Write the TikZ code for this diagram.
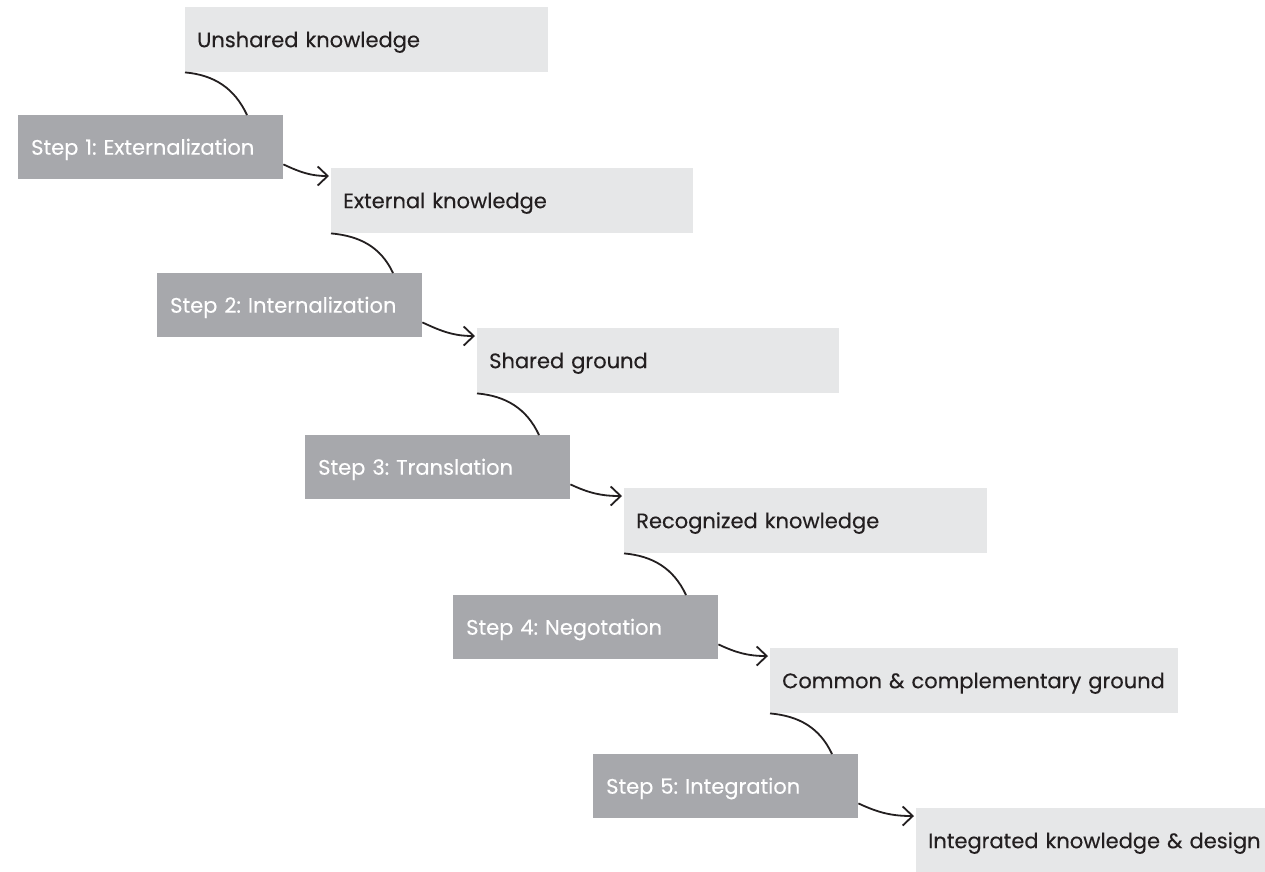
\documentclass[tikz,border=0pt]{standalone}
\usepackage{fontspec}
\setmainfont{Poppins}[FakeBold=0.3]
\usetikzlibrary{arrows.meta,positioning}
\definecolor{knowgray}{RGB}{230,231,232}
\definecolor{stepgray}{RGB}{167,168,172}
\definecolor{inkdark}{RGB}{35,31,32}
\frenchspacing

\begin{document}
\begin{tikzpicture}[x=1pt,y=-1pt,
  knowbox/.style={fill=knowgray, text=inkdark, anchor=north west, minimum height=65pt,
    inner xsep=12pt, text width=339pt, align=left, text height=19pt, text depth=4pt,
    font=\fontsize{21}{25}\selectfont},
  stepbox/.style={fill=stepgray, text=white, anchor=north west, minimum height=64pt,
    inner xsep=13pt, text width=239pt, align=left, text height=19pt, text depth=4pt,
    font=\fontsize{21}{25}\selectfont},
  link/.style={draw=inkdark, line width=1.8pt}]
\useasboundingbox (0,0) rectangle (1265,871);
% knowledge states and steps
\node[knowbox] (k1) at (185,7) {Unshared knowledge};
\node[stepbox] (s1) at (18,115) {Step 1: Externalization};
\node[knowbox, text width=338pt] (k2) at (331,168) {External knowledge};
\node[stepbox] (s2) at (157,273) {Step 2: Internalization};
\node[knowbox, text width=338pt] (k3) at (477,328) {Shared ground};
\node[stepbox] (s3) at (305,435) {Step 3: Translation};
\node[knowbox, text width=339pt] (k4) at (624,488) {Recognized knowledge};
\node[stepbox] (s4) at (453,595) {Step 4: Negotation};
\node[knowbox, text width=384pt] (k5) at (770,648) {Common \& complementary ground};
\node[stepbox] (s5) at (593,754) {Step 5: Integration};
\node[knowbox, text width=345pt] (k6) at (916,808) {Integrated knowledge \& design};
% connectors
\foreach \i/\j in {1/2,2/3,3/4,4/5,5/6} {
  \coordinate (t\i) at ([xshift=62pt]k\i.south west);
  \draw[link] (k\i.south west) to[out=-5,in=115] (t\i |- s\i.north);
  \draw[link, -{Straight Barb[length=10pt,width=19pt]}] ([yshift=15pt]s\i.south east)
    to[out=-25,in=180] ([xshift=-2pt,yshift=-8pt]k\j.north west);
}
\end{tikzpicture}
\end{document}
